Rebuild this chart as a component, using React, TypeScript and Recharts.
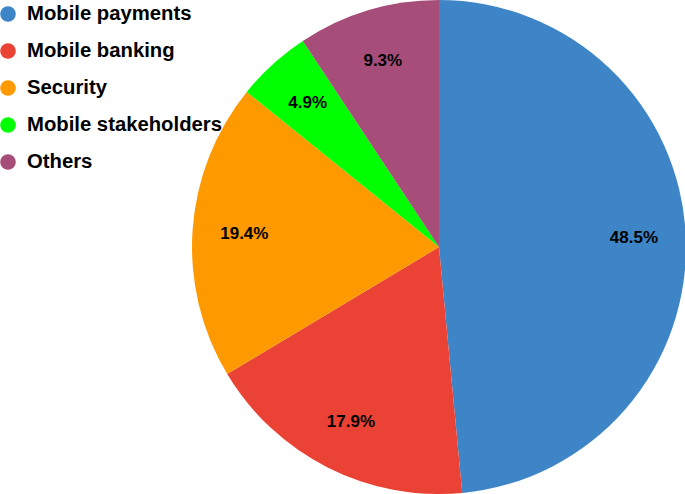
import { PieChart, Pie, Cell, Legend } from 'recharts';

const categories = ['Mobile payments', 'Mobile banking', 'Security', 'Mobile stakeholders', 'Others'];
const shares = [48.5, 17.9, 19.4, 4.9, 9.3];
const colors = ['#3d85c6', '#ea4335', '#ff9900', '#00ff00', '#a64d79'];

const data = categories.map((name, i) => ({ name, value: shares[i] }));

const RADIAN = Math.PI / 180;

const renderLabel = ({ cx, cy, midAngle, outerRadius, value }: any) => {
  const r = outerRadius * 0.79;
  const x = cx + r * Math.cos(-midAngle * RADIAN);
  const y = cy + r * Math.sin(-midAngle * RADIAN);
  return (
    <text
      x={x}
      y={y}
      fill="#000"
      textAnchor="middle"
      dominantBaseline="central"
      fontFamily="'Liberation Sans', Arial, sans-serif"
      fontWeight="bold"
      fontSize={17}
    >
      {`${value.toFixed(1)}%`}
    </text>
  );
};

// legend keeps the data order (recharts sorts payload by name otherwise)
const renderLegend = () => (
  <div style={{ fontFamily: "'Liberation Sans', Arial, sans-serif", fontWeight: 'bold', fontSize: 20.3 }}>
    {categories.map((name, i) => (
      <div key={name} style={{ display: 'flex', alignItems: 'center', height: 37, marginTop: i === 0 ? -5 : 0 }}>
        <svg width={27} height={16}>
          <circle cx={8} cy={8} r={7.8} fill={colors[i]} />
        </svg>
        <span style={{ color: '#000', whiteSpace: 'nowrap' }}>{name}</span>
      </div>
    ))}
  </div>
);

export default function App() {
  return (
    <div style={{ position: 'fixed', top: 0, left: 0, width: 685, height: 494, background: '#fff' }}>
      <PieChart width={685} height={494} margin={{ top: 0, right: 0, bottom: 0, left: 0 }}>
        <Pie
          data={data}
          dataKey="value"
          nameKey="name"
          cx={439}
          cy={247}
          outerRadius={247}
          startAngle={90}
          endAngle={-270}
          stroke="none"
          label={renderLabel}
          labelLine={false}
          isAnimationActive={false}
        >
          {data.map((d, i) => (
            <Cell key={d.name} fill={colors[i]} />
          ))}
        </Pie>
        <Legend
          layout="vertical"
          align="center"
          verticalAlign="middle"
          content={renderLegend}
          wrapperStyle={{ top: 0, left: 0, width: 260 }}
        />
      </PieChart>
    </div>
  );
}
